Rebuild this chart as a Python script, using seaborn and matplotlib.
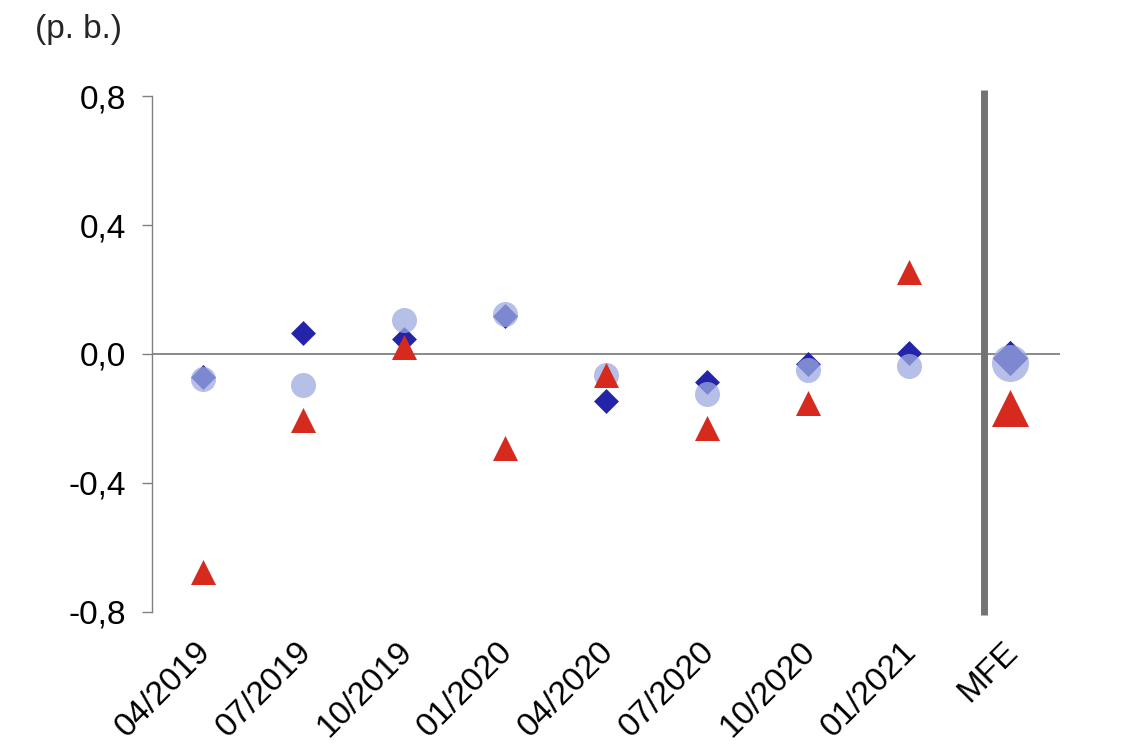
import numpy as np
import pandas as pd
import matplotlib
matplotlib.use("Agg")
import matplotlib.pyplot as plt
import matplotlib.transforms as mtrans
import seaborn as sb

#%% Dados
periodos = ["04/2019", "07/2019", "10/2019", "01/2020", "04/2020",
            "07/2020", "10/2020", "01/2021"]
diamante = [-0.070, 0.065, 0.047, 0.118, -0.146, -0.087, -0.030, 0.003]
circulo = [-0.078, -0.097, 0.106, 0.125, -0.065, -0.125, -0.050, -0.037]
triangulo = [-0.675, -0.205, 0.022, -0.290, -0.065, -0.230, -0.152, 0.255]

rotulo_mfe = "MFE"
mfe_diamante = -0.012
mfe_circulo = -0.028
mfe_triangulo = -0.168

yticks = [-0.8, -0.4, 0.0, 0.4, 0.8]

#%% Tabelas
rotulos = periodos + [rotulo_mfe]
df = pd.DataFrame({"pos": np.arange(len(periodos)),
                   "diamante": diamante,
                   "circulo": circulo,
                   "triangulo": triangulo})
dfm = pd.DataFrame({"pos": [len(periodos)],
                    "diamante": [mfe_diamante],
                    "circulo": [mfe_circulo],
                    "triangulo": [mfe_triangulo]})

#%% Estilo
sb.set_style("white")
plt.rcParams['font.family'] = ['Liberation Sans', 'DejaVu Sans']

azul = "#2424A8"
lilas = "#9CAAE0"
vermelho = "#D62A1F"
cinza = "#808080"

fig = plt.figure(figsize=(11.35, 7.56), dpi=100)
ax = fig.add_axes([0.134, 0.1905, 0.800, 0.6825])

ax.axhline(0, color=cinza, lw=1.3, zorder=1)

# ordem: losango, circulo, triangulo
sb.scatterplot(data=df, x="pos", y="diamante", marker="D", s=161,
               color=azul, linewidth=0, zorder=3, ax=ax)
sb.scatterplot(data=dfm, x="pos", y="diamante", marker="D", s=324,
               color=azul, linewidth=0, zorder=3, ax=ax)
sb.scatterplot(data=df, x="pos", y="circulo", marker="o", s=324,
               color=lilas, alpha=0.75, linewidth=0, zorder=4, ax=ax)
sb.scatterplot(data=dfm, x="pos", y="circulo", marker="o", s=710,
               color=lilas, alpha=0.75, linewidth=0, zorder=4, ax=ax)
sb.scatterplot(data=df, x="pos", y="triangulo", marker="^", s=324,
               color=vermelho, linewidth=0, zorder=5, ax=ax)
sb.scatterplot(data=dfm, x="pos", y="triangulo", marker="^", s=710,
               color=vermelho, linewidth=0, zorder=5, ax=ax)

# linha separando o MFE
ax.axvline(len(periodos) - 0.25, ymin=-0.006, ymax=1.012, color="#727574",
           lw=5, clip_on=False, zorder=2, solid_capstyle="butt")

#%% Eixos
ax.set_xlim(-0.5, len(rotulos) - 0.5)
ax.set_ylim(-0.8, 0.8)
ax.set_yticks(yticks)
ax.set_yticklabels([f"{v:.1f}".replace(".", ",") for v in yticks])
ax.set_xticks(np.arange(len(rotulos)))
ax.set_xticklabels(rotulos, rotation=45, ha="right", rotation_mode="anchor")
ax.set_xlabel("")
ax.set_ylabel("")

for s in ["top", "right", "bottom"]:
    ax.spines[s].set_visible(False)
ax.spines["left"].set_color(cinza)
ax.spines["left"].set_linewidth(1.0)

ax.tick_params(axis="y", direction="out", length=7, width=1, color=cinza,
               labelsize=24, labelcolor="black", pad=12, left=True)
ax.tick_params(axis="x", length=0, labelsize=24, labelcolor="black", pad=18)

# desloca os rotulos do eixo x um pouco para a esquerda
# (depois do tick_params, que refaz a transformacao)
desloc = mtrans.ScaledTranslation(-0.08, 0.01, fig.dpi_scale_trans)
for lab in ax.get_xticklabels():
    lab.set_transform(lab.get_transform() + desloc)

fig.text(0.031, 1 - 14 / 756, "(p. b.)", fontsize=24, va="top", ha="left")

fig.savefig("out.png", dpi=100)
